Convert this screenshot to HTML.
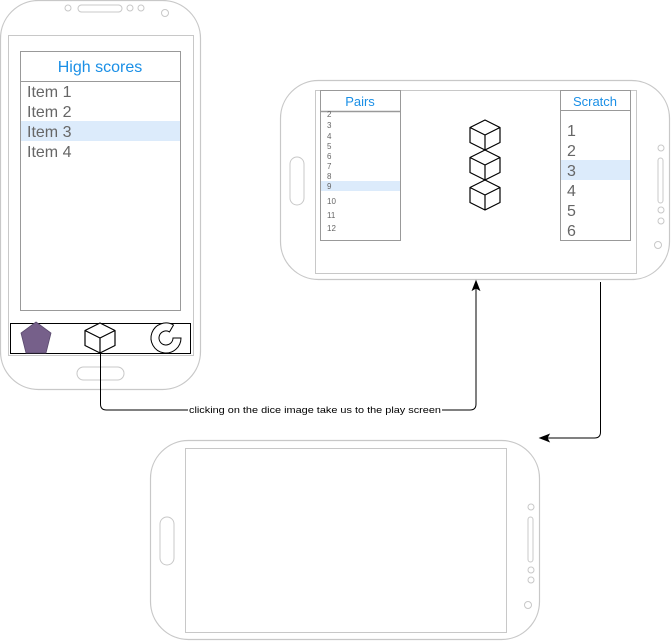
<!DOCTYPE html>
<html><head><style>html,body{margin:0;padding:0;background:#fff}svg{display:block}text{font-family:"Liberation Sans",Arial,sans-serif}</style></head>
<body>
<svg width="671" height="641" viewBox="0 0 671 641" xmlns="http://www.w3.org/2000/svg">
<defs>
<g id="cube"><path d="M0,-15 L15,-7.5 L15,7.5 L0,15 L-15,7.5 L-15,-7.5 Z M-15,-7.5 L0,0 L15,-7.5 M0,0 L0,15" fill="#fff" stroke="#000" stroke-width="1.2" stroke-linejoin="round"/></g>
</defs>
<!-- Phone 1 -->
<rect x="0.5" y="0.5" width="200" height="389" rx="38" fill="#fff" stroke="#c8c8c8" stroke-width="1.2"/>
<rect x="8.5" y="35.5" width="185" height="320" fill="none" stroke="#c8c8c8"/>
<circle cx="68" cy="8" r="3" fill="none" stroke="#c8c8c8"/>
<rect x="78" y="5" width="44" height="7" rx="3.5" fill="none" stroke="#c8c8c8"/>
<circle cx="130" cy="8" r="3" fill="none" stroke="#c8c8c8"/>
<circle cx="141" cy="8" r="3" fill="none" stroke="#c8c8c8"/>
<circle cx="165" cy="13" r="3.5" fill="none" stroke="#c8c8c8"/>
<rect x="77" y="367" width="47" height="13" rx="6.5" fill="none" stroke="#c8c8c8"/>
<rect x="20.5" y="51.5" width="160" height="259" fill="#fff" stroke="#999"/>
<line x1="20.5" y1="81.5" x2="180.5" y2="81.5" stroke="#999"/>
<text x="100" y="72" font-size="16" fill="#1a8fe6" text-anchor="middle">High scores</text>
<rect x="21" y="121" width="159" height="20" fill="#dcebfb"/>
<g font-size="16" fill="#666">
<text x="27" y="97">Item 1</text><text x="27" y="117">Item 2</text><text x="27" y="137">Item 3</text><text x="27" y="157">Item 4</text></g>
<rect x="10.5" y="323.5" width="180" height="30" fill="#fff" stroke="#000"/>
<path d="M36,322 L51,333 L46,353 L26,353 L21,333 Z" fill="#76608a" stroke="#5a4a6e" stroke-width="0.8"/>
<use href="#cube" x="100" y="338"/>
<path d="M181,338 A15,15 0 1 1 173.5,325 L169.5,331.9 A7,7 0 1 0 173,338 Z" fill="#fff" stroke="#000" stroke-width="1"/>
<!-- Phone 2 -->
<rect x="280.5" y="80.5" width="389" height="199" rx="38" fill="#fff" stroke="#c8c8c8" stroke-width="1.2"/>
<rect x="315.5" y="90.5" width="321" height="183" fill="none" stroke="#c8c8c8"/>
<rect x="290" y="157" width="14" height="48" rx="7" fill="none" stroke="#c8c8c8"/>
<circle cx="661" cy="148" r="3" fill="none" stroke="#c8c8c8"/>
<rect x="658" y="158" width="5" height="45" rx="2.5" fill="none" stroke="#c8c8c8"/>
<circle cx="661" cy="210" r="3" fill="none" stroke="#c8c8c8"/>
<circle cx="661" cy="221" r="3" fill="none" stroke="#c8c8c8"/>
<circle cx="658" cy="245" r="3.5" fill="none" stroke="#c8c8c8"/>
<rect x="320.5" y="90.5" width="80" height="150" fill="#fff" stroke="#999"/>
<line x1="320.5" y1="111.5" x2="400.5" y2="111.5" stroke="#999" stroke-width="1.5"/>
<text x="360" y="106" font-size="13" fill="#1a8fe6" text-anchor="middle">Pairs</text>
<rect x="321" y="181" width="79" height="10" fill="#dcebfb"/>
<g font-size="8" fill="#666">
<text x="327" y="117">2</text><text x="327" y="128">3</text><text x="327" y="139">4</text><text x="327" y="149">5</text><text x="327" y="159">6</text><text x="327" y="169">7</text><text x="327" y="179">8</text><text x="327" y="189">9</text><text x="327" y="204">10</text><text x="327" y="218">11</text><text x="327" y="231">12</text></g>
<use href="#cube" x="485" y="135"/>
<use href="#cube" x="485" y="165"/>
<use href="#cube" x="485" y="195"/>
<rect x="560.5" y="90.5" width="70" height="150" fill="#fff" stroke="#999"/>
<line x1="560.5" y1="110.5" x2="630.5" y2="110.5" stroke="#999"/>
<text x="595" y="106" font-size="13" fill="#1a8fe6" text-anchor="middle">Scratch</text>
<rect x="561" y="160" width="69" height="20" fill="#dcebfb"/>
<g font-size="16" fill="#666">
<text x="567" y="136">1</text><text x="567" y="156">2</text><text x="567" y="176">3</text><text x="567" y="196">4</text><text x="567" y="216">5</text><text x="567" y="236">6</text></g>
<!-- Phone 3 -->
<rect x="150.5" y="440.5" width="389" height="199" rx="38" fill="#fff" stroke="#c8c8c8" stroke-width="1.2"/>
<rect x="185.5" y="448.5" width="321" height="184" fill="none" stroke="#c8c8c8"/>
<rect x="160" y="517" width="14" height="48" rx="7" fill="none" stroke="#c8c8c8"/>
<circle cx="531" cy="507" r="3" fill="none" stroke="#c8c8c8"/>
<rect x="528" y="517" width="5" height="45" rx="2.5" fill="none" stroke="#c8c8c8"/>
<circle cx="531" cy="570" r="3" fill="none" stroke="#c8c8c8"/>
<circle cx="531" cy="580" r="3" fill="none" stroke="#c8c8c8"/>
<circle cx="528" cy="605" r="3.5" fill="none" stroke="#c8c8c8"/>
<!-- Connectors -->
<path d="M100.5,353 L100.5,404 Q100.5,410 106.5,410 L470,410 Q476,410 476,404 L476,288" fill="none" stroke="#000"/>
<path d="M476,281 L472.5,290 L476,288 L479.5,290 Z" fill="#000" stroke="#000"/>
<rect x="188" y="404" width="254" height="12" fill="#fff"/>
<text x="189" y="413" font-size="9.5" fill="#000" textLength="252" lengthAdjust="spacingAndGlyphs">clicking on the dice image take us to the play screen</text>
<path d="M600.5,282 L600.5,432 Q600.5,438 594.5,438 L547,438" fill="none" stroke="#000"/>
<path d="M540,438 L549,434.5 L547,438 L549,441.5 Z" fill="#000" stroke="#000"/>
</svg>
</body></html>
